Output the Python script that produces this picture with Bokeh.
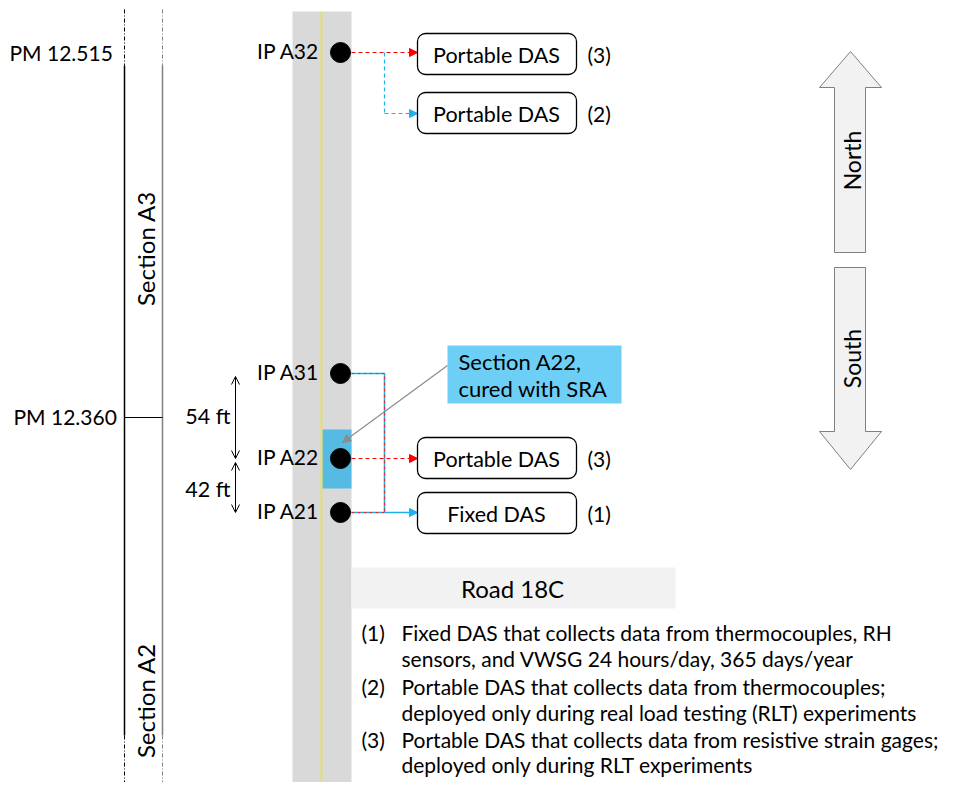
import math
from bokeh.plotting import figure
from bokeh.models import Range1d, Arrow, NormalHead, OpenHead, BoxAnnotation
from bokeh.core.properties import value
from bokeh.embed import file_html
from bokeh.resources import INLINE

FONT = "Lato"

# ---- content ----
pm_labels = ["PM 12.515", "PM 12.360"]
section_labels = ["Section A3", "Section A2"]
ip_labels = ["IP A32", "IP A31", "IP A22", "IP A21"]
das_labels = ["Portable DAS", "Portable DAS", "Portable DAS", "Fixed DAS"]
das_notes = ["(3)", "(2)", "(3)", "(1)"]
dim_labels = ["54 ft", "42 ft"]
callout_lines = ["Section A22,", "cured with SRA"]
direction_labels = ["North", "South"]
road_label = ["Road 18C"]
note_markers = ["(1)", "(2)", "(3)"]
note_lines = [
    "Fixed DAS that collects data from thermocouples, RH",
    "sensors, and VWSG 24 hours/day, 365 days/year",
    "Portable DAS that collects data from thermocouples;",
    "deployed only during real load testing (RLT) experiments",
    "Portable DAS that collects data from resistive strain gages;",
    "deployed only during RLT experiments",
]

# ---- layout (page pixel coordinates) ----
pm_y = [53, 417]
section_y = [249, 701]
ip_y = [53, 374, 459, 513]
das_top = [34, 93, 438, 493]
das_y = [55, 114, 459, 514]
dim_y = [416, 489]
note_marker_y = [633, 687, 740]
note_line_y = [633, 659, 687, 713, 740, 765]

p = figure(width=939, height=782, x_range=Range1d(1, 940), y_range=Range1d(783, 1),
           output_backend="svg", toolbar_location=None, min_border=0,
           x_axis_location=None, y_axis_location=None)
p.grid.visible = False
p.outline_line_color = None

def txt(xs, ys, texts, align="left", angle=0.0, color="black", size="21px", top=False):
    r = p.text(x=xs, y=ys, text=texts, text_align=align, text_baseline="middle",
               angle=angle, text_font=value(FONT), text_font_size=size, text_color=color)
    if top:
        r.level = "overlay"
    return r

# road
p.quad(left=[293], right=[352], top=[12], bottom=[800], fill_color="#d9d9d9", line_color=None)
p.quad(left=[323], right=[352], top=[430], bottom=[489], fill_color="#56bbe3", line_color=None)
p.segment(x0=[322], y0=[12], x1=[322], y1=[800], line_color="#f7e800", line_width=1.5)

# section lines
for x, c in [(125, "black"), (163, "#808080")]:
    p.segment(x0=[x], y0=[10], x1=[x], y1=[66], line_color=c, line_width=1, line_dash="4 2 1 2")
    p.segment(x0=[x], y0=[66], x1=[x], y1=[736], line_color=c, line_width=1.5)
    p.segment(x0=[x], y0=[736], x1=[x], y1=[800], line_color=c, line_width=1, line_dash="4 2 1 2")
p.segment(x0=[125], y0=[418], x1=[163], y1=[418], line_color="black", line_width=1)

txt([10, 14], pm_y, pm_labels)
txt([146, 146], section_y, section_labels, align="center", angle=math.pi / 2, size="24px")

# connection lines
RED = "#ff0000"
BLUE = "#1fb0ef"
p.add_layout(Arrow(x_start=352, y_start=53, x_end=418, y_end=53, line_color=RED, line_width=1.2,
                   line_dash="4 3", end=NormalHead(size=8, fill_color=RED, line_color=RED)))
p.segment(x0=[385], y0=[53], x1=[385], y1=[114], line_color=BLUE, line_width=1.2, line_dash="4 3")
p.add_layout(Arrow(x_start=385, y_start=114, x_end=418, y_end=114, line_color=BLUE, line_width=1.2,
                   line_dash="4 3", end=NormalHead(size=8, fill_color=BLUE, line_color=BLUE)))
p.multi_line(xs=[[352, 385, 385], [352, 385]], ys=[[374, 374, 513], [513, 513]],
             line_color=BLUE, line_width=1.5)
p.multi_line(xs=[[352, 385, 385], [352, 385]], ys=[[374, 374, 513], [513, 513]],
             line_color="#d9302c", line_width=1.2, line_dash="3 3")
p.add_layout(Arrow(x_start=385, y_start=513, x_end=418, y_end=513, line_color=BLUE, line_width=1.5,
                   end=NormalHead(size=8, fill_color=BLUE, line_color=BLUE)))
p.add_layout(Arrow(x_start=352, y_start=459, x_end=418, y_end=459, line_color=RED, line_width=1.2,
                   line_dash="4 3", end=NormalHead(size=8, fill_color=RED, line_color=RED)))

# IP points
p.scatter(x=[341] * 4, y=ip_y, size=20, fill_color="black", line_color="black")
txt([320] * 4, [y - 2 for y in ip_y], ip_labels, align="right")

# DAS boxes
for t in das_top:
    p.add_layout(BoxAnnotation(left=418, right=577, top=t, bottom=t + 41, border_radius=8,
                               fill_color="white", fill_alpha=1, line_color="black",
                               line_alpha=1, line_width=1.3))
txt([497] * 4, das_y, das_labels, align="center", size="21.5px", top=True)
txt([588] * 4, das_y, das_notes)

# callout
p.quad(left=[448], right=[622], top=[346], bottom=[404], fill_color="#6dcff5", line_color=None)
txt([459, 459], [362, 389], callout_lines, size="22px")
p.add_layout(Arrow(x_start=448, y_start=366, x_end=343, y_end=443, line_color="#8c8c8c", line_width=1.2,
                   end=NormalHead(size=8, fill_color="#8c8c8c", line_color="#8c8c8c")))

# dimensions
p.add_layout(Arrow(x_start=236, y_start=459, x_end=236, y_end=377, line_color="black", line_width=1,
                   start=OpenHead(size=8, line_width=1), end=OpenHead(size=8, line_width=1)))
p.add_layout(Arrow(x_start=236, y_start=463, x_end=236, y_end=513, line_color="black", line_width=1,
                   start=OpenHead(size=8, line_width=1), end=OpenHead(size=8, line_width=1)))
txt([231, 231], dim_y, dim_labels, align="right", size="21.5px")

# direction arrows
p.patches(xs=[[851, 882, 866, 866, 835, 835, 820], [835, 866, 866, 882, 851, 820, 835]],
          ys=[[52, 88, 88, 253, 253, 88, 88], [268, 268, 432, 432, 470, 432, 432]],
          fill_color="#f2f2f2", line_color="#7f7f7f", line_width=1)
txt([852, 852], [161, 359], direction_labels, align="center", angle=math.pi / 2, size="23px")

# road label
p.quad(left=[352], right=[676], top=[568], bottom=[609], fill_color="#f2f2f2", line_color=None)
txt([513], [589], road_label, align="center", size="24px")

# notes
txt([362] * 3, note_marker_y, note_markers)
txt([402] * 6, note_line_y, note_lines)

open("out.html", "w").write(file_html(p, INLINE))
